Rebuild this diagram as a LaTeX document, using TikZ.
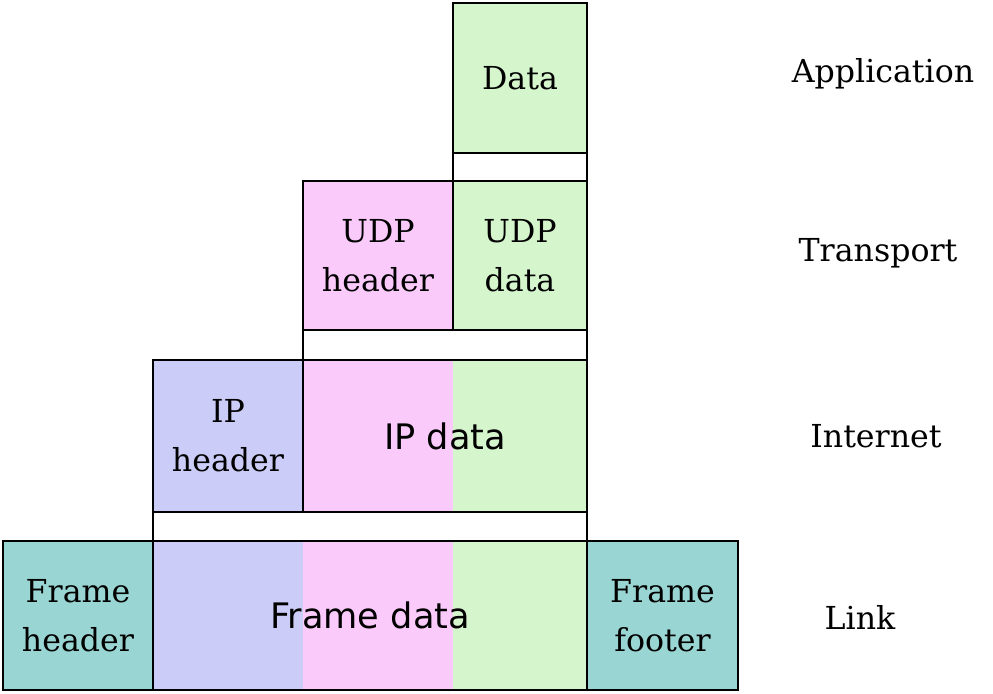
\documentclass[tikz,border=0pt]{standalone}
\usepackage{fontspec}
\newfontfamily\dejavu{DejaVu Sans}
\newfontfamily\dejaserif{DejaVu Serif}
\definecolor{appgreen}{HTML}{D5F5CC}
\definecolor{udppink}{HTML}{FACAFA}
\definecolor{iplav}{HTML}{CCCCF8}
\definecolor{frteal}{HTML}{99D6D3}
\begin{document}
\begin{tikzpicture}[x=0.02cm,y=-0.02cm,
  box/.style={draw,line width=1.2pt,inner sep=0pt,align=center,font=\dejaserif\fontsize{18}{28}\selectfont},
  layer/.style={font=\dejaserif\fontsize{18}{28}\selectfont}]
\useasboundingbox (0,0) rectangle (993,693);
% fills
\fill[appgreen] (453,3) rectangle (587,153);
\fill[udppink] (303,181) rectangle (453,330);
\fill[appgreen] (453,181) rectangle (587,330);
\fill[iplav] (153,360) rectangle (303,512);
\fill[udppink] (303,360) rectangle (453,512);
\fill[appgreen] (453,360) rectangle (587,512);
\fill[frteal] (3,541) rectangle (153,690);
\fill[iplav] (153,541) rectangle (303,690);
\fill[udppink] (303,541) rectangle (453,690);
\fill[appgreen] (453,541) rectangle (587,690);
\fill[frteal] (587,541) rectangle (738,690);
% gaps
\draw[line width=1.2pt] (453,153) rectangle (587,181);
\draw[line width=1.2pt] (303,330) rectangle (587,360);
\draw[line width=1.2pt] (153,512) rectangle (587,541);
% boxes
\node[box,minimum width=134*0.02cm,minimum height=150*0.02cm] (data) at (520,78) {Data};
\node[box,minimum width=150*0.02cm,minimum height=149*0.02cm] (udph) at (378,255.5) {UDP\\header};
\node[box,minimum width=134*0.02cm,minimum height=149*0.02cm] (udpd) at (520,255.5) {UDP\\data};
\node[box,minimum width=150*0.02cm,minimum height=152*0.02cm] (iph) at (228,436) {IP\\header};
\node[box,minimum width=284*0.02cm,minimum height=152*0.02cm,font=\dejavu\fontsize{20}{24}\selectfont] (ipd) at (445,436) {IP data};
\node[box,minimum width=150*0.02cm,minimum height=149*0.02cm] (frh) at (78,615.5) {Frame\\header};
\node[box,minimum width=434*0.02cm,minimum height=149*0.02cm,font=\dejavu\fontsize{20}{24}\selectfont] (frd) at (370,615.5) {Frame data};
\node[box,minimum width=151*0.02cm,minimum height=149*0.02cm] (frf) at (662.5,615.5) {Frame\\footer};
% layer labels
\node[layer] (app) at (883,74) {Application};
\node[layer] (tr) at (878,253) {Transport};
\node[layer] (inet) at (876,436) {Internet};
\node[layer] (link) at (860,617) {Link};
\end{tikzpicture}
\end{document}
